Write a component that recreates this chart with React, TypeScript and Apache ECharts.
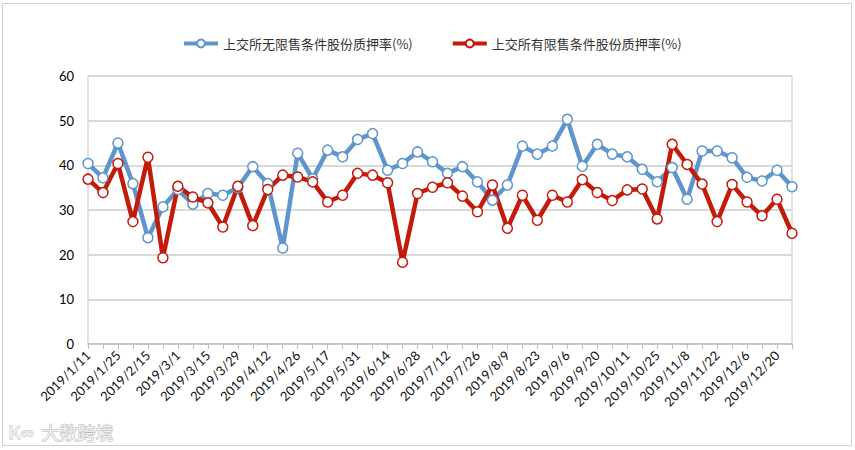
import React, { useEffect, useRef } from "react";
import * as echarts from "echarts";

const categories = [
  "2019/1/11", "2019/1/18", "2019/1/25", "2019/2/1", "2019/2/15", "2019/2/22",
  "2019/3/1", "2019/3/8", "2019/3/15", "2019/3/22", "2019/3/29", "2019/4/4",
  "2019/4/12", "2019/4/19", "2019/4/26", "2019/5/10", "2019/5/17", "2019/5/24",
  "2019/5/31", "2019/6/6", "2019/6/14", "2019/6/21", "2019/6/28", "2019/7/5",
  "2019/7/12", "2019/7/19", "2019/7/26", "2019/8/2", "2019/8/9", "2019/8/16",
  "2019/8/23", "2019/8/30", "2019/9/6", "2019/9/12", "2019/9/20", "2019/9/27",
  "2019/10/11", "2019/10/18", "2019/10/25", "2019/11/1", "2019/11/8", "2019/11/15",
  "2019/11/22", "2019/11/29", "2019/12/6", "2019/12/13", "2019/12/20", "2019/12/27",
];

const unrestricted = [
  40.4, 37.2, 45.0, 35.9, 23.8, 30.7, 34.6, 31.3, 33.7, 33.3, 35.0, 39.7,
  35.9, 21.5, 42.7, 37.0, 43.4, 41.9, 45.8, 47.1, 38.9, 40.4, 43.0, 40.8,
  38.2, 39.7, 36.3, 32.2, 35.6, 44.3, 42.5, 44.3, 50.3, 39.8, 44.7, 42.5,
  41.9, 39.1, 36.3, 39.5, 32.4, 43.2, 43.2, 41.7, 37.3, 36.5, 38.9, 35.2,
];

const restricted = [
  36.9, 33.9, 40.4, 27.4, 41.8, 19.3, 35.3, 32.9, 31.6, 26.2, 35.3, 26.5,
  34.6, 37.8, 37.4, 36.3, 31.8, 33.3, 38.2, 37.8, 36.1, 18.3, 33.7, 35.1,
  36.1, 33.1, 29.6, 35.6, 25.9, 33.3, 27.7, 33.3, 31.8, 36.8, 33.9, 32.1,
  34.5, 34.7, 28.0, 44.7, 40.2, 35.8, 27.4, 35.7, 31.8, 28.7, 32.4, 24.8,
];

const seriesNames = ["上交所无限售条件股份质押率(%)", "上交所有限售条件股份质押率(%)"];

const BLUE = "#5E95CD";
const RED = "#C41A0A";
const LATIN = "Lato, 'Liberation Sans', sans-serif";
const CJK = "'Noto Sans CJK SC', sans-serif";

export default function App() {
  const ref = useRef<HTMLDivElement>(null);

  useEffect(() => {
    document.body.style.margin = "0";
    if (!ref.current) return;
    const chart = echarts.init(ref.current, undefined, { renderer: "svg" });
    const mkSeries = (name: string, data: number[], color: string) => ({
      name,
      type: "line",
      data,
      symbol: "circle",
      symbolSize: 10,
      showAllSymbol: true,
      lineStyle: { color, width: 4.5 },
      itemStyle: { color: "#ffffff", borderColor: color, borderWidth: 1.5 },
      emphasis: { disabled: true },
    });
    chart.setOption({
      animation: false,
      backgroundColor: "#ffffff",
      graphic: [
        {
          type: "rect",
          shape: { x: 2.5, y: 3.5, width: 849, height: 442 },
          style: { fill: "none", stroke: "#d0d0d0", lineWidth: 1 },
          silent: true,
        },
        {
          type: "text",
          left: 8,
          top: 422,
          style: {
            text: "К∞",
            fontSize: 18,
            fontFamily: LATIN,
            fill: "#f4f4f4",
            stroke: "#b4b4b4",
            lineWidth: 1,
          },
          silent: true,
        },
        {
          type: "text",
          left: 41,
          top: 422,
          style: {
            text: "大数跨境",
            fontSize: 18,
            fontFamily: CJK,
            fill: "#f4f4f4",
            stroke: "#b4b4b4",
            lineWidth: 1,
          },
          silent: true,
        },
      ],
      legend: {
        top: 32,
        left: 177,
        itemWidth: 34,
        itemHeight: 10,
        itemGap: 38,
        lineStyle: { width: 4 },
        textStyle: { fontSize: 13, fontFamily: CJK, color: "#333" },
        data: seriesNames,
      },
      grid: {
        left: 88,
        right: 63,
        top: 76,
        bottom: 106,
        show: true,
        borderColor: "#d9d9d9",
        borderWidth: 1.5,
      },
      xAxis: {
        type: "category",
        data: categories,
        boundaryGap: false,
        axisLine: { lineStyle: { color: "#bfbfbf", width: 1.5 } },
        axisTick: { show: true, interval: 0, length: 5, lineStyle: { color: "#bfbfbf" } },
        axisLabel: {
          interval: 1,
          rotate: 45,
          fontSize: 13,
          fontFamily: LATIN,
          color: "#111",
          margin: 9,
        },
        splitLine: { show: false },
      },
      yAxis: {
        type: "value",
        min: 0,
        max: 60,
        interval: 10,
        axisLine: { show: false },
        axisTick: { show: false },
        axisLabel: { fontSize: 13, fontFamily: LATIN, color: "#000", margin: 14 },
        splitLine: { lineStyle: { color: "#d9d9d9", width: 2 } },
      },
      series: [
        mkSeries(seriesNames[0], unrestricted, BLUE),
        mkSeries(seriesNames[1], restricted, RED),
      ],
    });
    return () => chart.dispose();
  }, []);

  return (
    <div style={{ position: "absolute", left: 0, top: 0, width: 855, height: 450 }}>
      <div ref={ref} style={{ width: 855, height: 450 }} />
    </div>
  );
}
